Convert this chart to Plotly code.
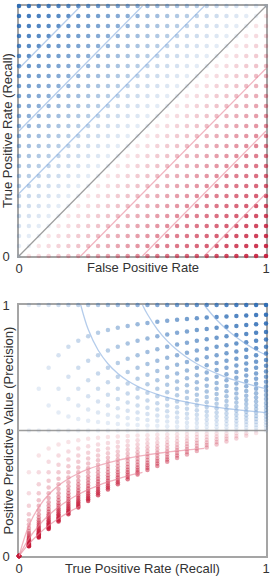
import numpy as np
import plotly.graph_objects as go

# ---- data -------------------------------------------------------------
RATES = [0.00, 0.04, 0.08, 0.12, 0.16, 0.20, 0.24, 0.28, 0.32, 0.36, 0.40,
         0.44, 0.48, 0.52, 0.56, 0.60, 0.64, 0.68, 0.72, 0.76, 0.80, 0.84,
         0.88, 0.92, 0.96, 1.00]                      # grid of FPR / TPR values
INFORMEDNESS_LEVELS = [-0.75, -0.5, -0.25, 0.0, 0.25, 0.5, 0.75]
PREVALENCE = 0.5
TICK_VALS = [0, 1]
TICK_TEXT = ["0", "1"]
TOP_X_TITLE = "False Positive Rate"
TOP_Y_TITLE = "True Positive Rate (Recall)"
BOT_X_TITLE = "True Positive Rate (Recall)"
BOT_Y_TITLE = "Positive Predictive Value (Precision)"

# ---- styles -----------------------------------------------------------
BLUE = (40, 105, 180)
RED = (198, 28, 58)
FONT = "Liberation Sans, Arial, sans-serif"
TEXT_COLOR = "#333"


def dot_color(j):
    base = BLUE if j >= 0 else RED
    a = 0.09 + 0.85 * abs(j)
    return "rgba(%d,%d,%d,%.3f)" % (base[0], base[1], base[2], a)


def line_color(j):
    if abs(j) < 1e-9:
        return "rgba(115,115,115,0.7)"
    if j > 0:
        return "rgba(130,170,222,0.6)"
    return "rgba(230,130,150,0.6)"


def precision(tpr, fpr):
    p = PREVALENCE * tpr
    n = (1 - PREVALENCE) * fpr
    return p / (p + n) if (p + n) > 0 else None


# grid points
roc_x, roc_y, roc_c = [], [], []
pr_x, pr_y, pr_c = [], [], []
for tpr in RATES:
    for fpr in RATES:
        j = tpr - fpr
        roc_x.append(fpr)
        roc_y.append(tpr)
        roc_c.append(dot_color(j))
        pr = precision(tpr, fpr)
        if pr is not None:
            pr_x.append(tpr)
            pr_y.append(pr)
            pr_c.append(dot_color(j))

fig = go.Figure()

# dots
fig.add_trace(go.Scatter(x=roc_x, y=roc_y, mode="markers", xaxis="x", yaxis="y",
                         marker=dict(size=4.5, color=roc_c, line=dict(width=0)),
                         cliponaxis=False, hoverinfo="skip", showlegend=False))
fig.add_trace(go.Scatter(x=pr_x, y=pr_y, mode="markers", xaxis="x2", yaxis="y2",
                         marker=dict(size=4.5, color=pr_c, line=dict(width=0)),
                         cliponaxis=False, hoverinfo="skip", showlegend=False))

# iso-informedness lines
for j in INFORMEDNESS_LEVELS:
    f0, f1 = max(0.0, -j), min(1.0, 1.0 - j)
    fig.add_trace(go.Scatter(x=[f0, f1], y=[f0 + j, f1 + j], mode="lines",
                             xaxis="x", yaxis="y",
                             line=dict(color=line_color(j), width=1.3),
                             hoverinfo="skip", showlegend=False))
    t0, t1 = max(0.0, j), min(1.0, 1.0 + j)
    ts = [t0] + [r for r in RATES if t0 < r < t1] + [t1]
    xs, ys = [], []
    for t in ts:
        pr = precision(t, t - j)
        if pr is None:          # limit along the chance line
            pr = PREVALENCE
        xs.append(t)
        ys.append(pr)
    fig.add_trace(go.Scatter(x=xs, y=ys, mode="lines", xaxis="x2", yaxis="y2",
                             line=dict(color=line_color(j), width=1.3, shape="spline"),
                             hoverinfo="skip", showlegend=False))

axis_common = dict(range=[0, 1], showgrid=False, zeroline=False, showline=True,
                   mirror=True, linecolor="#a5a5a5", linewidth=1.5,
                   tickvals=TICK_VALS, ticktext=TICK_TEXT, ticks="",
                   tickfont=dict(size=13, color=TEXT_COLOR, family=FONT),
                   layer="below traces", fixedrange=True, automargin=False)

fig.update_layout(
    width=272, height=576,
    margin=dict(l=19, r=6, t=6, b=20),
    paper_bgcolor="white", plot_bgcolor="white",
    font=dict(family=FONT, size=13, color=TEXT_COLOR),
    xaxis=dict(axis_common, domain=[0, 1], anchor="y", ticklabelstandoff=0),
    yaxis=dict(axis_common, domain=[0.5455, 1], anchor="x", ticklabelstandoff=5),
    xaxis2=dict(axis_common, domain=[0, 1], anchor="y2", ticklabelstandoff=0),
    yaxis2=dict(axis_common, domain=[0, 0.4564], anchor="x2", ticklabelstandoff=5),
    annotations=[
        dict(text=TOP_X_TITLE, xref="x domain", yref="y domain", x=0.5, y=0,
             yshift=-12, xanchor="center", yanchor="middle", showarrow=False,
             font=dict(size=13)),
        dict(text=BOT_X_TITLE, xref="x2 domain", yref="y2 domain", x=0.5, y=0,
             yshift=-12, xanchor="center", yanchor="middle", showarrow=False,
             font=dict(size=13)),
        dict(text=TOP_Y_TITLE, xref="paper", yref="y domain", x=0, xshift=-11,
             y=0.5, textangle=-90, xanchor="center", yanchor="middle",
             showarrow=False, font=dict(size=13)),
        dict(text=BOT_Y_TITLE, xref="paper", yref="y2 domain", x=0, xshift=-11,
             y=0.5, textangle=-90, xanchor="center", yanchor="middle",
             showarrow=False, font=dict(size=13)),
    ],
)

fig.write_html(
    "out.html",
    config={"displayModeBar": False},
    post_script="document.body.style.margin='0';document.body.style.overflow='hidden';",
)
